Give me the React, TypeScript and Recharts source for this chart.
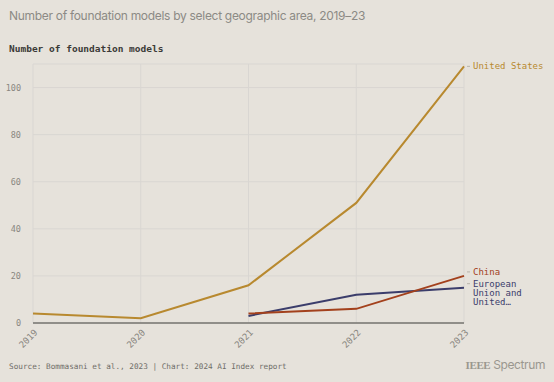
import { LineChart, Line, XAxis, YAxis, CartesianGrid } from "recharts"

const years = ["2019", "2020", "2021", "2022", "2023"]
const unitedStates = [4, 2, 16, 51, 109]
const china = [null, null, 4, 6, 20]
const euUk = [null, null, 3, 12, 15]
const yTicks = [0, 20, 40, 60, 80, 100]

const data = years.map((year, i) => ({
    year,
    us: unitedStates[i],
    china: china[i],
    eu: euUk[i],
}))

const MONO = "'DejaVu Sans Mono', 'Liberation Mono', monospace"
const BG = "#e6e2db"

const endLabel = (lines: string[], color: string, dy: number) => (props: any) => {
    const { x, y, index } = props
    if (index !== years.length - 1) return null
    return (
        <g>
            <line x1={x + 3} x2={x + 6} y1={y + dy} y2={y + dy} stroke="#b9b4ab" strokeWidth={1} />
            <text x={x + 9} y={y + dy} fill={color} fontFamily={MONO} fontSize={9} dominantBaseline="central">
                {lines.map((l, k) => (
                    <tspan key={k} x={x + 9} dy={k === 0 ? 0 : 9}>{l}</tspan>
                ))}
            </text>
        </g>
    )
}

const XTick = (props: any) => {
    const { x, y, payload } = props
    return (
        <text x={x + 3} y={y} transform={`rotate(-45, ${x + 3}, ${y})`} textAnchor="end"
            fill="#8a8781" fontFamily={MONO} fontSize={9} dominantBaseline="central">
            {payload.value}
        </text>
    )
}

export default function App() {
    return (
        <div style={{ position: "absolute", left: 0, top: 0, width: 554, height: 382, background: BG, overflow: "hidden" }}>
            <div style={{ position: "absolute", left: 9, top: 8, fontFamily: "Inter, sans-serif", fontSize: 12, letterSpacing: -0.3, color: "#8c8a85", whiteSpace: "nowrap" }}>
                Number of foundation models by select geographic area, 2019–23
            </div>
            <div style={{ position: "absolute", left: 9, top: 43, fontFamily: MONO, fontSize: 9.5, fontWeight: "bold", color: "#3b3a37", whiteSpace: "nowrap" }}>
                Number of foundation models
            </div>
            <div style={{ position: "absolute", left: 0, top: 0 }}>
                <LineChart width={554} height={382} data={data} margin={{ top: 64, right: 90, bottom: 0, left: 0 }}>
                    <CartesianGrid stroke="#d9d6d2" strokeWidth={1} />
                    <XAxis dataKey="year" height={59} tick={<XTick />} tickLine={false} axisLine={{ stroke: "#76746f", strokeWidth: 1.5 }} interval={0} />
                    <YAxis width={33} domain={[0, 110]} ticks={yTicks} tickLine={false} axisLine={false}
                        tick={{ fill: "#8a8781", fontFamily: MONO, fontSize: 8.5 }} tickMargin={6} />
                    <Line dataKey="us" stroke="#b8892f" strokeWidth={2} dot={false} isAnimationActive={false}
                        label={endLabel(["United States"], "#b8892f", 0)} />
                    <Line dataKey="eu" stroke="#3b3d6b" strokeWidth={2} dot={false} isAnimationActive={false}
                        label={endLabel(["European", "Union and", "United…"], "#3b3d6b", -4)} />
                    <Line dataKey="china" stroke="#a3411d" strokeWidth={2} dot={false} isAnimationActive={false}
                        label={endLabel(["China"], "#a3411d", -4)} />
                </LineChart>
            </div>
            <div style={{ position: "absolute", left: 9, top: 362, fontFamily: MONO, fontSize: 7.7, color: "#6f6d68", whiteSpace: "nowrap" }}>
                Source: Bommasani et al., 2023 | Chart: 2024 AI Index report
            </div>
            <div style={{ position: "absolute", right: 9, top: 357, fontFamily: "Inter, sans-serif", fontSize: 12, color: "#9a978f", whiteSpace: "nowrap", letterSpacing: -0.4 }}>
                <span style={{ fontFamily: "'Liberation Serif', serif", fontWeight: "bold", fontSize: 11 }}>IEEE</span> Spectrum
            </div>
        </div>
    )
}
